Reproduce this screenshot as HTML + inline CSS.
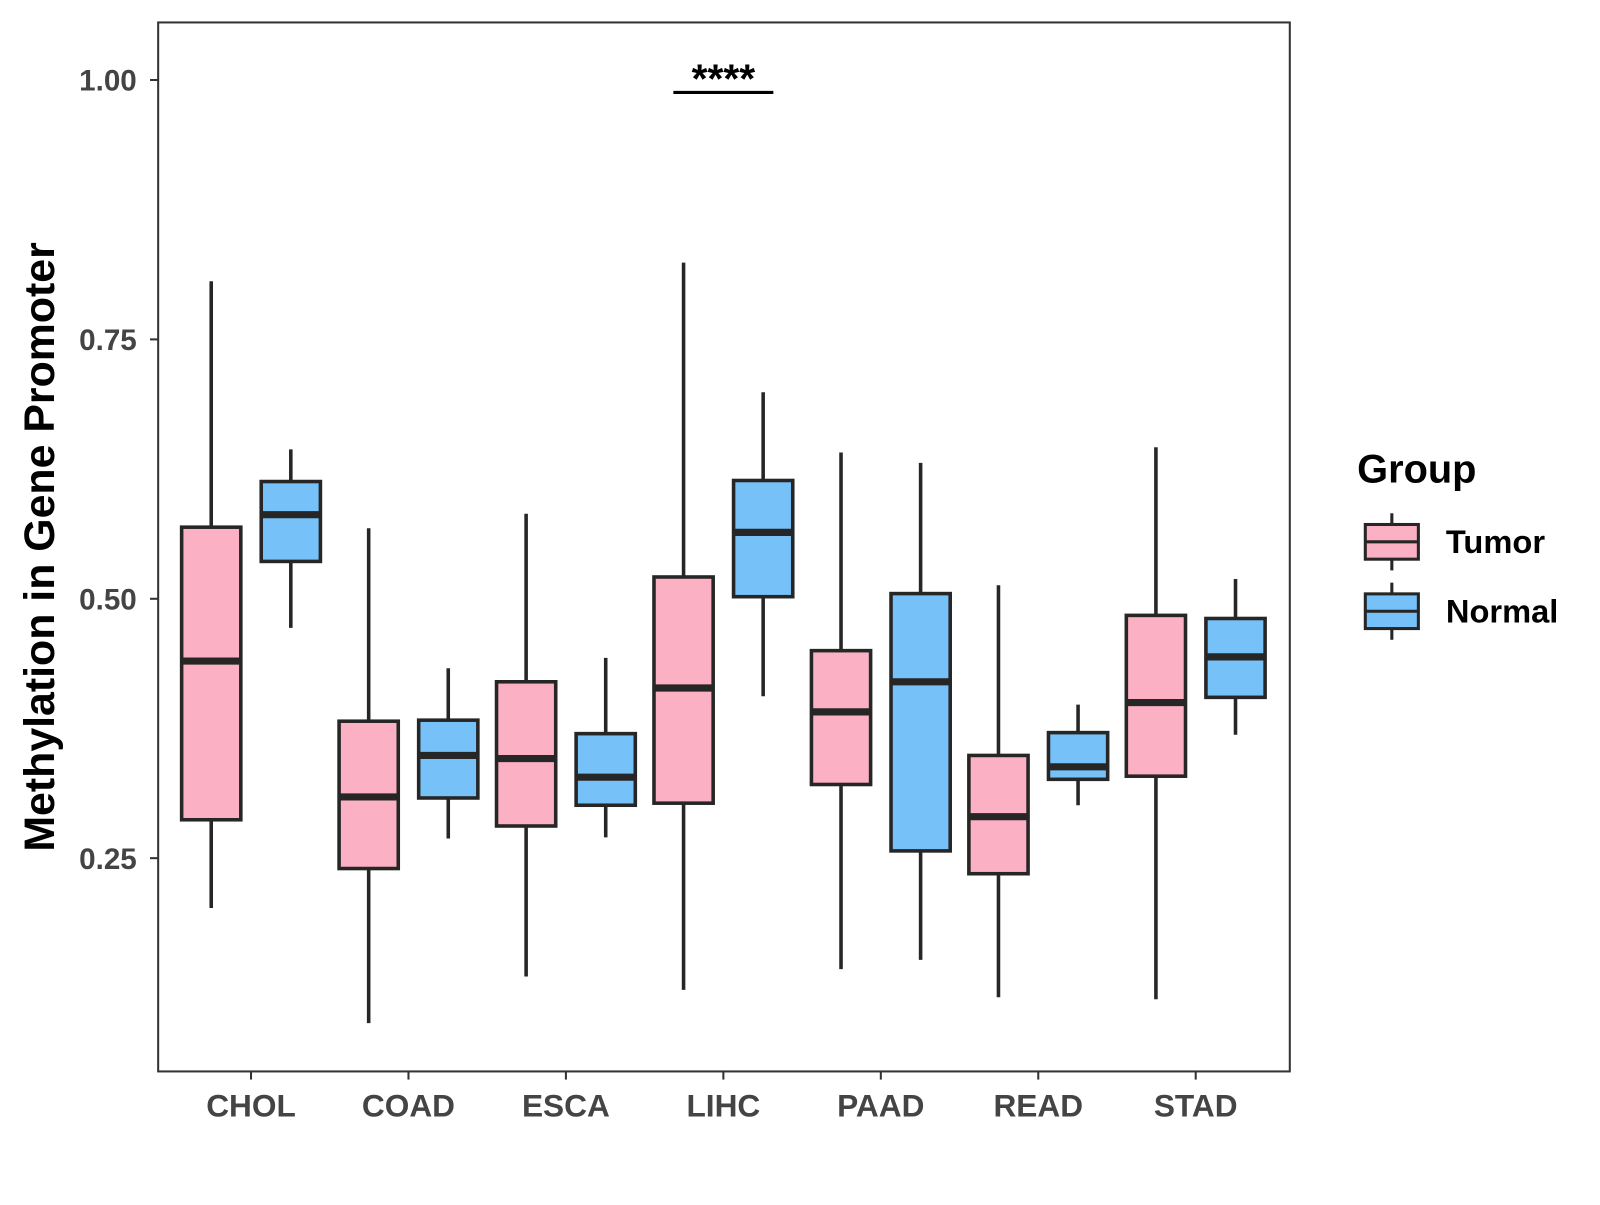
<!DOCTYPE html>
<html><head><meta charset="utf-8"><style>
body{margin:0;background:#fff;overflow:hidden}
svg text{font-family:"Liberation Sans",Arial,sans-serif;font-weight:bold}
</style></head><body>
<svg id="chart" width="1600" height="1200" viewBox="0 0 1568 1176" xmlns="http://www.w3.org/2000/svg">
<rect width="1568" height="1176" fill="#fff"/>
<g id="plot"></g>
</svg>
<script>
const categories=["CHOL","COAD","ESCA","LIHC","PAAD","READ","STAD"];
// [min, q1, median, q3, max]
const tumorStats=[[0.202,0.287,0.440,0.569,0.806],[0.091,0.240,0.309,0.382,0.568],[0.136,0.281,0.346,0.420,0.582],[0.123,0.303,0.414,0.521,0.824],[0.143,0.321,0.391,0.450,0.641],[0.116,0.235,0.290,0.349,0.513],[0.114,0.329,0.400,0.484,0.646]];
const normalStats=[[0.472,0.536,0.581,0.613,0.644],[0.269,0.308,0.349,0.383,0.433],[0.270,0.301,0.328,0.370,0.443],[0.406,0.502,0.564,0.614,0.699],[0.152,0.257,0.420,0.505,0.631],[0.301,0.326,0.338,0.371,0.398],[0.369,0.405,0.444,0.481,0.519]];
const yTicks=[0.25,0.50,0.75,1.00];
const yTickLabels=["0.25","0.50","0.75","1.00"];
const sigLabel="****";
const sigCategory="LIHC";
const sigValue=0.988;

const NS="http://www.w3.org/2000/svg";
const g=document.getElementById('plot');
const P={l:155,r:1264,t:22,b:1050};
const y=v=>841-(v-0.25)*1016.8;
const x=i=>246+i*154.3;
function el(t,a,txt){const e=document.createElementNS(NS,t);for(const k in a)e.setAttribute(k,a[k]);if(txt!==undefined)e.textContent=txt;g.appendChild(e);return e;}

let e=el('rect',{x:P.l,y:P.t,width:P.r-P.l,height:P.b-P.t,fill:'none',stroke:'#333','stroke-width':2});



yTicks.forEach((v,i)=>{
  let t=el('line',{x1:P.l-8,x2:P.l,y1:y(v),y2:y(v),stroke:'#333','stroke-width':2});
  
  
  let l=el('text',{x:P.l-21,y:y(v)+10.5,'text-anchor':'end','font-size':29,fill:'#444'},yTickLabels[i]);
  
  
});
categories.forEach((c,i)=>{
  let t=el('line',{x1:x(i),x2:x(i),y1:P.b,y2:P.b+8,stroke:'#333','stroke-width':2});
  
  
  let l=el('text',{x:x(i),y:1094,'text-anchor':'middle','font-size':31,fill:'#444'},c);
  
  
});

function box(cx,s,fill,name){
  const w=58;
  let wl=el('line',{x1:cx,x2:cx,y1:y(s[0]),y2:y(s[4]),stroke:'#262626','stroke-width':3.5});
  
  
  let b=el('rect',{x:cx-w/2,y:y(s[3]),width:w,height:y(s[1])-y(s[3]),fill:fill,stroke:'#262626','stroke-width':3.5});
  
  
  let m=el('line',{x1:cx-w/2,x2:cx+w/2,y1:y(s[2]),y2:y(s[2]),stroke:'#262626','stroke-width':7});
  
  
}
categories.forEach((c,i)=>{
  box(x(i)-39,tumorStats[i],'#fbb1c3','tumor-'+c.toLowerCase());
  box(x(i)+39,normalStats[i],'#76c1f7','normal-'+c.toLowerCase());
});

const si=categories.indexOf(sigCategory);
let sl=el('line',{x1:x(si)-49,x2:x(si)+49,y1:y(sigValue),y2:y(sigValue),stroke:'#000','stroke-width':3});


let st=el('text',{x:x(si),y:y(sigValue),'text-anchor':'middle','font-size':40,fill:'#000'},sigLabel);



let yt=el('text',{x:0,y:0,transform:'translate(53,536) rotate(-90)','text-anchor':'middle','font-size':42,fill:'#000'},'Methylation in Gene Promoter');



let lt=el('text',{x:1330,y:473,'font-size':39,fill:'#000'},'Group');


[['Tumor','#fbb1c3',531],['Normal','#76c1f7',599]].forEach(([n,f,cy])=>{
  let a=el('line',{x1:1364,x2:1364,y1:cy-28,y2:cy+28,stroke:'#262626','stroke-width':3});
  
  
  let r=el('rect',{x:1338,y:cy-17,width:52,height:34,fill:f,stroke:'#262626','stroke-width':3});
  
  
  let m=el('line',{x1:1338,x2:1390,y1:cy,y2:cy,stroke:'#262626','stroke-width':3});
  
  
  let t=el('text',{x:1417,y:cy+11,'font-size':32,fill:'#000'},n);
  
  
});
</script>
</body></html>
